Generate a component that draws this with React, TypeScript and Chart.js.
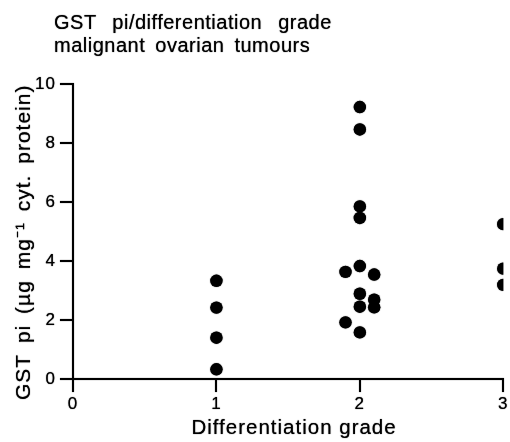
import React, { useEffect, useRef } from "react";
import { Chart, registerables } from "chart.js";

Chart.register(...registerables);

const titleLines = ["GST pi/differentiation grade", "malignant ovarian tumours"];
const titleWordSpacing = [10, 4];
const xAxisTitle = "Differentiation grade";
const yAxisTitle = "GST pi (µg mg⁻¹ cyt. protein)";

const xTicks = [0, 1, 2, 3];
const yTicks = [0, 2, 4, 6, 8, 10];

const grade1Positions = [1, 1, 1, 1];
const grade1Values = [3.33, 2.42, 1.4, 0.33];
const grade2Positions = [2, 2, 2, 2, 2, 1.9, 2.1, 2, 2.1, 2, 2.1, 1.9, 2];
const grade2Values = [9.22, 8.46, 5.85, 5.46, 3.83, 3.63, 3.54, 2.89, 2.69, 2.45, 2.43, 1.92, 1.58];
const grade3Positions = [3, 3, 3];
const grade3Values = [5.25, 3.74, 3.19];

const FONT = "'Liberation Sans', Arial, Helvetica, sans-serif";

const textStylePlugin = {
  id: "textStyle",
  beforeDraw(chart: any) {
    const ctx: any = chart.ctx;
    if ("letterSpacing" in ctx) ctx.letterSpacing = "1px";
    if ("wordSpacing" in ctx) ctx.wordSpacing = "4px";
    ctx.shadowColor = "rgba(0,0,0,0.85)";
    ctx.shadowBlur = 1;
  },
};

export default function App() {
  const ref = useRef<HTMLCanvasElement | null>(null);

  useEffect(() => {
    if (!ref.current) return;
    const pts = [
      ...grade1Positions.map((x, i) => ({ x, y: grade1Values[i] })),
      ...grade2Positions.map((x, i) => ({ x, y: grade2Values[i] })),
      ...grade3Positions.map((x, i) => ({ x, y: grade3Values[i] })),
    ];
    const chart = new Chart(ref.current, {
      type: "scatter",
      data: {
        datasets: [
          {
            data: pts,
            backgroundColor: "#000",
            borderColor: "#000",
            pointRadius: 6.2,
            pointHoverRadius: 6.2,
            borderWidth: 0,
          },
        ],
      },
      plugins: [textStylePlugin],
      options: {
        animation: false,
        responsive: false,
        events: [],
        layout: { padding: { left: 0, top: 84, right: 3, bottom: 0 } },
        plugins: { legend: { display: false }, tooltip: { enabled: false }, title: { display: false } },
        scales: {
          x: {
            type: "linear",
            min: 0,
            max: 3,
            afterFit: (s: any) => {
              s.height = 63;
            },
            afterBuildTicks: (s: any) => {
              s.ticks = xTicks.map((v) => ({ value: v }));
            },
            ticks: { stepSize: 1, padding: 2, color: "#000", font: { family: FONT, size: 17 } },
            grid: { drawOnChartArea: false, drawTicks: true, tickLength: 13, color: "#000", lineWidth: 2 },
            border: { display: true, color: "#000", width: 2 },
            title: {
              display: true,
              text: " \u2009" + xAxisTitle,
              color: "#000",
              font: { family: FONT, size: 20.5 },
              padding: { top: 0, bottom: 1 },
            },
          },
          y: {
            type: "linear",
            min: 0,
            max: 10,
            afterFit: (s: any) => {
              s.width = 73;
            },
            afterBuildTicks: (s: any) => {
              s.ticks = yTicks.map((v) => ({ value: v }));
            },
            ticks: { stepSize: 2, padding: 4, color: "#000", font: { family: FONT, size: 17 } },
            grid: { drawOnChartArea: false, drawTicks: true, tickLength: 13, color: "#000", lineWidth: 2 },
            border: { display: true, color: "#000", width: 2 },
            title: {
              display: true,
              text: yAxisTitle + "  ",
              color: "#000",
              font: { family: FONT, size: 21 },
              padding: { top: 12, bottom: 0 },
            },
          },
        },
      },
    });
    return () => chart.destroy();
  }, []);

  return (
    <div style={{ position: "absolute", left: 0, top: 0, width: 510, height: 442, overflow: "hidden", background: "#fff" }}>
      <div
        style={{
          position: "absolute",
          left: 54,
          top: 11,
          fontFamily: FONT,
          fontSize: 20,
          lineHeight: "23px",
          color: "#000",
          letterSpacing: 0.5,
          whiteSpace: "nowrap",
          textShadow: "0 0 1px rgba(0,0,0,0.85)",
        }}
      >
        {titleLines.map((t, i) => (
          <div key={i} style={{ wordSpacing: titleWordSpacing[i] }}>
            {t}
          </div>
        ))}
      </div>
      <canvas ref={ref} width={510} height={442} style={{ display: "block", width: 510, height: 442 }} />
    </div>
  );
}
